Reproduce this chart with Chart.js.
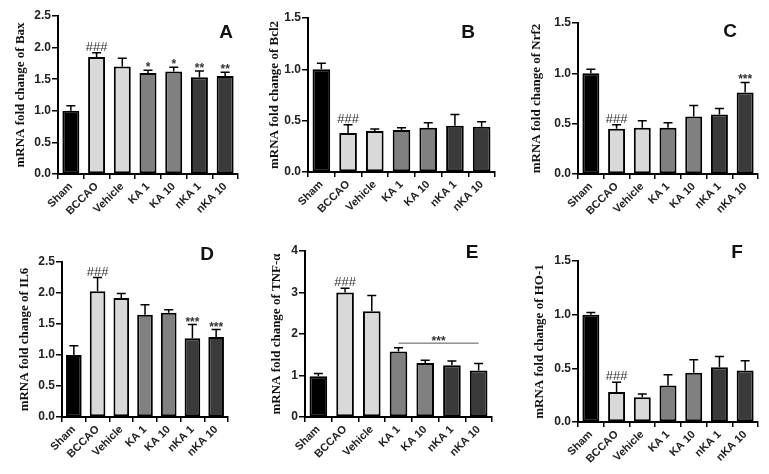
<!DOCTYPE html>
<html>
<head>
  <script src="https://cdn.jsdelivr.net/npm/chart.js@4"></script>
  <style>
    body { margin: 0; background: #fff; }
    #wrap { position: relative; width: 769px; height: 474px; background: #fff; overflow: hidden; }
    #wrap canvas { position: absolute; }
  </style>
</head>
<body>
  <div id="wrap"></div>
  <script type="text/javascript">
    // groups (x categories)
    var groups = ['Sham', 'BCCAO', 'Vehicle', 'KA 1', 'KA 10', 'nKA 1', 'nKA 10'];

    // A - Bax
    var baxMean = [1.00, 1.85, 1.70, 1.60, 1.62, 1.53, 1.55];
    var baxErr = [0.08, 0.07, 0.13, 0.04, 0.07, 0.10, 0.06];
    var baxMarks = ['', '###', '', '*', '*', '**', '**'];
    // B - Bcl2
    var bcl2Mean = [1.00, 0.38, 0.40, 0.41, 0.43, 0.45, 0.44];
    var bcl2Err = [0.06, 0.08, 0.02, 0.02, 0.05, 0.11, 0.05];
    var bcl2Marks = ['', '###', '', '', '', '', ''];
    // C - Nrf2
    var nrf2Mean = [1.00, 0.45, 0.46, 0.46, 0.57, 0.59, 0.81];
    var nrf2Err = [0.04, 0.04, 0.07, 0.05, 0.11, 0.06, 0.10];
    var nrf2Marks = ['', '###', '', '', '', '', '***'];
    // D - IL6
    var il6Mean = [1.00, 2.03, 1.92, 1.65, 1.68, 1.27, 1.29];
    var il6Err = [0.15, 0.22, 0.07, 0.16, 0.05, 0.22, 0.12];
    var il6Marks = ['', '###', '', '', '', '***', '***'];
    // E - TNF-a
    var tnfMean = [0.98, 3.00, 2.55, 1.58, 1.30, 1.25, 1.12];
    var tnfErr = [0.07, 0.10, 0.38, 0.09, 0.07, 0.10, 0.17];
    var tnfMarks = ['', '###', '', '', '', '', ''];
    var tnfBracket = { from: 3, to: 6, value: 1.78, label: '***' };
    // F - HO-1
    var ho1Mean = [1.00, 0.28, 0.23, 0.34, 0.46, 0.51, 0.48];
    var ho1Err = [0.02, 0.09, 0.03, 0.10, 0.12, 0.10, 0.09];
    var ho1Marks = ['', '###', '', '', '', '', ''];

    var barFill = ['#000000', '#d9d9d9', '#d9d9d9', '#808080', '#808080', '#3a3a3a', '#3a3a3a'];

    // chart area boxes [left, top, right, bottom], y-scale width, letter offsets
    var panels = [
      { letter: 'A', mean: baxMean, err: baxErr, marks: baxMarks, gene: 'Bax', max: 2.5, step: 0.5, area: [58, 16, 238, 174], yW: 45, lpos: [-12, 17] },
      { letter: 'B', mean: bcl2Mean, err: bcl2Err, marks: bcl2Marks, gene: 'Bcl2', max: 1.5, step: 0.5, area: [308, 18, 495, 172], yW: 41, lpos: [-27, 15] },
      { letter: 'C', mean: nrf2Mean, err: nrf2Err, marks: nrf2Marks, gene: 'Nrf2', max: 1.5, step: 0.5, area: [578, 23, 758, 174], yW: 49, lpos: [-28, 9] },
      { letter: 'D', mean: il6Mean, err: il6Err, marks: il6Marks, gene: 'IL6', max: 2.5, step: 0.5, area: [62, 262, 228, 417], yW: 45, lpos: [-21, -7] },
      { letter: 'E', mean: tnfMean, err: tnfErr, marks: tnfMarks, gene: 'TNF-α', max: 4, step: 1, area: [305, 251, 492, 417], yW: 36, lpos: [-20, 2], bracket: tnfBracket },
      { letter: 'F', mean: ho1Mean, err: ho1Err, marks: ho1Marks, gene: 'HO-1', max: 1.5, step: 0.5, area: [578, 261, 758, 422], yW: 46, lpos: [-21, -8] }
    ];

    var sansBold = { family: '"Liberation Sans", Arial, sans-serif', size: 12, weight: 'bold' };

    // error bars, significance marks and panel letter
    var extras = {
      id: 'extras',
      afterDatasetsDraw: function(chart, args, opts) {
        var p = opts.panel;
        var c = chart.ctx;
        var y = chart.scales.y;
        var x = chart.scales.x;
        var meta = chart.getDatasetMeta(0);
        c.save();
        c.strokeStyle = '#000';
        c.lineWidth = 1.5;
        meta.data.forEach(function(bar, i) {
          var top = y.getPixelForValue(p.mean[i] + p.err[i]);
          var base = y.getPixelForValue(p.mean[i]);
          c.beginPath();
          c.moveTo(bar.x, base);
          c.lineTo(bar.x, top);
          c.moveTo(bar.x - 4.5, top);
          c.lineTo(bar.x + 4.5, top);
          c.stroke();
          if (p.marks[i]) {
            c.fillStyle = '#333';
            c.textAlign = 'center';
            c.textBaseline = 'alphabetic';
            if (p.marks[i].charAt(0) === '#') {
              c.font = '13px "Liberation Sans", Arial, sans-serif';
              c.fillText(p.marks[i], bar.x, top - 2);
            } else {
              c.font = 'bold 12px "Liberation Sans", Arial, sans-serif';
              c.fillText(p.marks[i], bar.x, top + 1);
            }
          }
        });
        if (p.bracket) {
          var b = p.bracket;
          var yy = y.getPixelForValue(b.value);
          var x1 = x.getPixelForValue(b.from);
          var x2 = x.getPixelForValue(b.to);
          c.lineWidth = 1;
          c.strokeStyle = '#555';
          c.beginPath();
          c.moveTo(x1, yy);
          c.lineTo(x2, yy);
          c.stroke();
          c.fillStyle = '#333';
          c.textAlign = 'center';
          c.font = 'bold 12px "Liberation Sans", Arial, sans-serif';
          c.fillText(b.label, (x1 + x2) / 2, yy + 2);
        }
        var ca = chart.chartArea;
        c.fillStyle = '#111';
        c.font = 'bold 19px "Liberation Sans", Arial, sans-serif';
        c.textAlign = 'center';
        c.textBaseline = 'middle';
        c.fillText(p.letter, ca.right + p.lpos[0], ca.top + p.lpos[1]);
        c.restore();
      }
    };

    var wrap = document.getElementById('wrap');
    var padTop = 22, padRight = 10, xH = 62;

    panels.forEach(function(p) {
      var a = p.area;
      var left = a[0] - p.yW, top = a[1] - padTop;
      var w = a[2] + padRight - left, h = a[3] + xH - top;
      var cv = document.createElement('canvas');
      cv.width = w; cv.height = h;
      cv.style.left = left + 'px';
      cv.style.top = top + 'px';
      cv.style.width = w + 'px';
      cv.style.height = h + 'px';
      wrap.appendChild(cv);

      new Chart(cv.getContext('2d'), {
        type: 'bar',
        data: {
          labels: groups,
          datasets: [{
            data: p.mean,
            backgroundColor: barFill,
            borderColor: '#000',
            borderWidth: 2,
            borderSkipped: false,
            categoryPercentage: 1,
            barPercentage: 0.66
          }]
        },
        options: {
          responsive: false,
          animation: false,
          layout: { padding: { top: padTop, right: padRight, left: 0, bottom: 0 } },
          plugins: { legend: { display: false }, tooltip: { enabled: false }, extras: { panel: p } },
          scales: {
            x: {
              afterFit: function(s) { s.height = xH; },
              grid: { drawOnChartArea: false, drawTicks: true, tickLength: 5, color: '#000', lineWidth: 1.5 },
              border: { color: '#000', width: 2 },
              ticks: { color: '#222', font: { family: sansBold.family, size: 11, weight: 'bold' }, minRotation: 45, maxRotation: 45, padding: 1 }
            },
            y: {
              min: 0, max: p.max,
              afterFit: function(s) { s.width = p.yW; },
              grid: { drawOnChartArea: false, drawTicks: true, tickLength: 6, color: '#000', lineWidth: 1.5 },
              border: { color: '#000', width: 2 },
              ticks: {
                stepSize: p.step, color: '#222', font: sansBold, padding: 1,
                callback: function(v) { return p.step < 1 ? v.toFixed(1) : String(v); }
              },
              title: {
                display: true, text: 'mRNA fold change of ' + p.gene, color: '#111',
                font: { family: '"Liberation Serif", "Times New Roman", serif', size: 13, weight: 'bold' },
                padding: { top: 0, bottom: 0 }
              }
            }
          }
        },
        plugins: [extras]
      });
    });
  </script>
</body>
</html>
